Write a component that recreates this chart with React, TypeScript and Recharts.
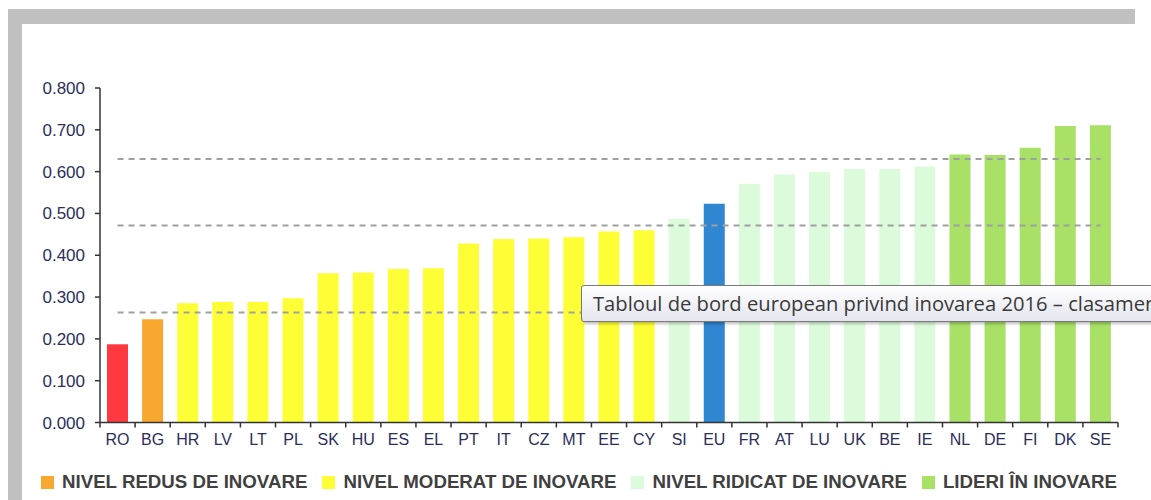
import { BarChart, Bar, Cell, XAxis, YAxis, ReferenceLine } from "recharts";

// Summary innovation index by country
const countries = ["RO", "BG", "HR", "LV", "LT", "PL", "SK", "HU", "ES", "EL", "PT", "IT", "CZ", "MT", "EE", "CY", "SI", "EU", "FR", "AT", "LU", "UK", "BE", "IE", "NL", "DE", "FI", "DK", "SE"];
const scores = [0.187, 0.247, 0.285, 0.288, 0.288, 0.297, 0.357, 0.359, 0.367, 0.369, 0.428, 0.439, 0.44, 0.443, 0.457, 0.46, 0.487, 0.523, 0.571, 0.593, 0.599, 0.606, 0.606, 0.612, 0.641, 0.64, 0.657, 0.709, 0.711];
const groups = ["ro", "low", "moderate", "moderate", "moderate", "moderate", "moderate", "moderate", "moderate", "moderate", "moderate", "moderate", "moderate", "moderate", "moderate", "moderate", "high", "eu", "high", "high", "high", "high", "high", "high", "leader", "leader", "leader", "leader", "leader"];
const thresholds = [0.63, 0.471, 0.263];
const yTicks = [0, 0.1, 0.2, 0.3, 0.4, 0.5, 0.6, 0.7, 0.8];
const legendKeys = ["low", "moderate", "high", "leader"];
const legendLabels = ["NIVEL REDUS DE INOVARE", "NIVEL MODERAT DE INOVARE", "NIVEL RIDICAT DE INOVARE", "LIDERI ÎN INOVARE"];
const tooltipText = "Tabloul de bord european privind inovarea 2016 – clasamentul";

const COLORS: Record<string, string> = {
  ro: "#fe3a40",
  low: "#f9a82f",
  moderate: "#fefe36",
  high: "#dbfbdb",
  eu: "#2f86d1",
  leader: "#a9e066",
};

const data = countries.map((c, i) => ({ country: c, score: scores[i], group: groups[i] }));

const PLOT_LEFT = 100;
const PLOT_RIGHT = 1118;
const BAND = (PLOT_RIGHT - PLOT_LEFT) / countries.length;
const LABEL_COLOR = "#2b2e5c";
const FONT = "'Liberation Sans', Arial, sans-serif";

function CountryTick(props: any) {
  const { x, y, payload, index } = props;
  const half = BAND / 2;
  return (
    <g>
      <line x1={x - half} y1={y} x2={x - half} y2={y + 5} stroke="#333" strokeWidth={1.5} />
      {index === countries.length - 1 && (
        <line x1={x + half} y1={y} x2={x + half} y2={y + 5} stroke="#333" strokeWidth={1.5} />
      )}
      <text x={x} y={y + 22} textAnchor="middle" fill={LABEL_COLOR} fontSize={16} fontFamily={FONT}>
        {payload.value}
      </text>
    </g>
  );
}

export default function App() {
  return (
    <div style={{ position: "absolute", left: 0, top: 0, width: 1151, height: 500, overflow: "hidden", background: "#fff", fontFamily: FONT }}>
      <div style={{ position: "absolute", left: 8, top: 9, width: 1127, height: 15, background: "#c0c0c0" }} />
      <div style={{ position: "absolute", left: 8, top: 9, width: 14, height: 491, background: "#c0c0c0" }} />

      <div style={{ position: "absolute", left: 0, top: 0 }}>
        <BarChart width={1151} height={500} data={data} margin={{ top: 88, right: 33, bottom: 47.5, left: 40 }}>
          <XAxis
            dataKey="country"
            interval={0}
            height={30}
            tickSize={0}
            tickMargin={0}
            tick={<CountryTick />}
            axisLine={{ stroke: "#333", strokeWidth: 1.5 }}
          />
          <YAxis
            width={60}
            domain={[0, 0.8]}
            ticks={yTicks}
            tickFormatter={(v: number) => v.toFixed(3)}
            tickSize={5}
            tickMargin={10}
            tick={{ fill: LABEL_COLOR, fontSize: 17, fontFamily: FONT }}
            tickLine={{ stroke: "#333", strokeWidth: 1.5 }}
            axisLine={{ stroke: "#333", strokeWidth: 1.5 }}
          />
          <Bar dataKey="score" barSize={21} isAnimationActive={false}>
            {data.map((d) => (
              <Cell key={d.country} fill={COLORS[d.group]} />
            ))}
          </Bar>
          {thresholds.map((t) => (
            <ReferenceLine
              key={t}
              segment={[{ x: countries[0], y: t }, { x: countries[countries.length - 1], y: t }]}
              stroke="#a0a0a0"
              strokeWidth={2}
              strokeDasharray="6 5"
            />
          ))}
        </BarChart>
      </div>

      <div style={{ position: "absolute", left: 41, top: 471, display: "flex", alignItems: "center", whiteSpace: "nowrap" }}>
        {legendKeys.map((k, i) => (
          <div key={k} style={{ display: "flex", alignItems: "center", marginRight: 15 }}>
            <span style={{ display: "inline-block", width: 13, height: 13, background: COLORS[k], marginRight: 8 }} />
            <span style={{ fontSize: 18.7, fontWeight: "bold", color: "#404040", lineHeight: "22px" }}>{legendLabels[i]}</span>
          </div>
        ))}
      </div>

      <div
        style={{
          position: "absolute",
          left: 581,
          top: 285,
          width: 640,
          height: 37,
          boxSizing: "border-box",
          border: "1px solid #7a7a7a",
          borderRadius: 3,
          background: "linear-gradient(#ffffff, #e4e5ee)",
          boxShadow: "2px 2px 3px rgba(0,0,0,0.25)",
          padding: "0 0 0 11px",
          fontFamily: "'Open Sans', 'Noto Sans', sans-serif",
          fontSize: 20.2,
          lineHeight: "34px",
          color: "#3a3a3a",
          whiteSpace: "nowrap",
        }}
      >
        {tooltipText}
      </div>
    </div>
  );
}
